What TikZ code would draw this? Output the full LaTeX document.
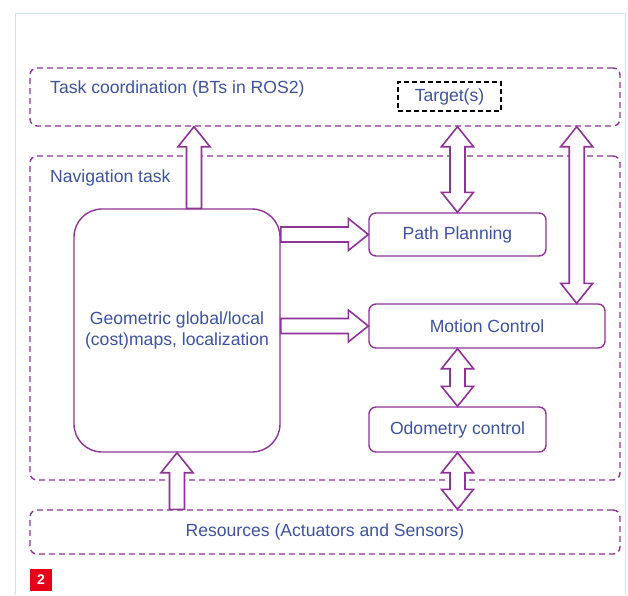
\documentclass[tikz,border=0pt]{standalone}
\usepackage{fontspec}
\setmainfont{Liberation Sans}
\usetikzlibrary{calc}

\definecolor{linepurple}{RGB}{142,52,150}
\definecolor{textblue}{RGB}{62,82,160}
\definecolor{frameblue}{RGB}{208,224,242}
\definecolor{badgered}{RGB}{230,0,25}

% hollow block arrow geometry
\newcommand{\arrShaft}{7.5pt}
\newcommand{\arrHead}{16pt}
\newcommand{\arrLen}{20pt}

\tikzset{
  zone/.style={draw=linepurple, dash pattern=on 6pt off 4pt, line width=1.4pt,
    rounded corners=7pt, inner sep=0pt},
  zonetitle/.style={text=textblue, inner sep=0pt, anchor=west},
  modbox/.style={draw=linepurple, line width=1.4pt, rounded corners=7pt,
    text=textblue, inner sep=0pt},
  targetbox/.style={draw=black, dash pattern=on 5pt off 3pt, line width=1.8pt,
    text=textblue, inner sep=0pt},
  arrowbase/.style={draw=linepurple, line width=1.6pt, fill=white, line join=miter},
  % single-headed hollow arrow, tip at the target
  blockarrow/.style={arrowbase, to path={
    ($(\tikztostart)!\arrShaft!90:(\tikztotarget)$)
    -- ($($(\tikztotarget)!\arrLen!(\tikztostart)$)!\arrShaft!90:(\tikztotarget)$)
    -- ($($(\tikztotarget)!\arrLen!(\tikztostart)$)!\arrHead!90:(\tikztotarget)$)
    -- (\tikztotarget)
    -- ($($(\tikztotarget)!\arrLen!(\tikztostart)$)!\arrHead!-90:(\tikztotarget)$)
    -- ($($(\tikztotarget)!\arrLen!(\tikztostart)$)!\arrShaft!-90:(\tikztotarget)$)
    -- ($(\tikztostart)!\arrShaft!-90:(\tikztotarget)$)
    -- cycle}},
  % double-headed hollow arrow
  twinarrow/.style={arrowbase, to path={
    (\tikztostart)
    -- ($($(\tikztostart)!\arrLen!(\tikztotarget)$)!\arrHead!90:(\tikztotarget)$)
    -- ($($(\tikztostart)!\arrLen!(\tikztotarget)$)!\arrShaft!90:(\tikztotarget)$)
    -- ($($(\tikztotarget)!\arrLen!(\tikztostart)$)!\arrShaft!90:(\tikztotarget)$)
    -- ($($(\tikztotarget)!\arrLen!(\tikztostart)$)!\arrHead!90:(\tikztotarget)$)
    -- (\tikztotarget)
    -- ($($(\tikztotarget)!\arrLen!(\tikztostart)$)!\arrHead!-90:(\tikztotarget)$)
    -- ($($(\tikztotarget)!\arrLen!(\tikztostart)$)!\arrShaft!-90:(\tikztotarget)$)
    -- ($($(\tikztostart)!\arrLen!(\tikztotarget)$)!\arrShaft!-90:(\tikztotarget)$)
    -- ($($(\tikztostart)!\arrLen!(\tikztotarget)$)!\arrHead!-90:(\tikztotarget)$)
    -- cycle}},
}

\begin{document}
\begin{tikzpicture}[x=1pt, y=-1pt, font=\fontsize{17.6}{21}\selectfont]
  \useasboundingbox[fill=white] (0,0) rectangle (628,595);

  % page frame
  \draw[frameblue, line width=1pt] (15,595) -- (15,13) -- (625,13) -- (625,595);

  % layers
  \node[zone, minimum width=590pt, minimum height=58pt] (task) at (325,97) {};
  \node[zone, minimum width=590pt, minimum height=324pt] (nav) at (325,318) {};
  \node[zone, minimum width=590pt, minimum height=44pt, text=textblue] (res) at (325,532) {Resources (Actuators and Sensors)};

  \node[zonetitle] (tasktitle) at (50,89) {Task coordination (BTs in ROS2)};
  \node[zonetitle] (navtitle) at (50,178) {Navigation task};

  \node[targetbox, minimum width=103pt, minimum height=29pt] (target) at (449.5,96.5) {Target(s)};

  % modules
  \node[modbox, rounded corners=28pt, minimum width=206pt, minimum height=243pt,
        align=center] (maps) at (177,330.5) {Geometric global/local\\(cost)maps, localization};
  \node[modbox, minimum width=177pt, minimum height=43pt] (pp) at (457.5,234.5) {Path Planning};
  \node[modbox, minimum width=236pt, minimum height=44pt] (mc) at (487,326) {Motion Control};
  \node[modbox, minimum width=177pt, minimum height=45pt] (od) at (457.5,429.5) {Odometry control};

  % connector anchors
  \coordinate (mapsup) at ($(maps.north)+(17,0)$);
  \coordinate (mcup) at ($(mc.north east)+(-29,0)$);

  % connectors
  \draw[blockarrow] (mapsup) to (mapsup |- task.south);
  \draw[twinarrow] (pp.north |- task.south) to (pp.north);
  \draw[twinarrow] (mcup |- task.south) to (mcup);
  \draw[blockarrow] (pp.west -| maps.east) to (pp.west);
  \draw[blockarrow] (mc.west -| maps.east) to (mc.west);
  \draw[twinarrow] (od.north |- mc.south) to (od.north);
  \draw[twinarrow] (od.south) to (od.south |- res.north);
  \draw[blockarrow] (maps.south |- res.north) to (maps.south);

  % figure badge
  \node[fill=badgered, text=white, font=\bfseries\fontsize{14}{14}\selectfont,
        minimum size=22pt, inner sep=0pt] (badge) at (41,580) {2};
\end{tikzpicture}
\end{document}
